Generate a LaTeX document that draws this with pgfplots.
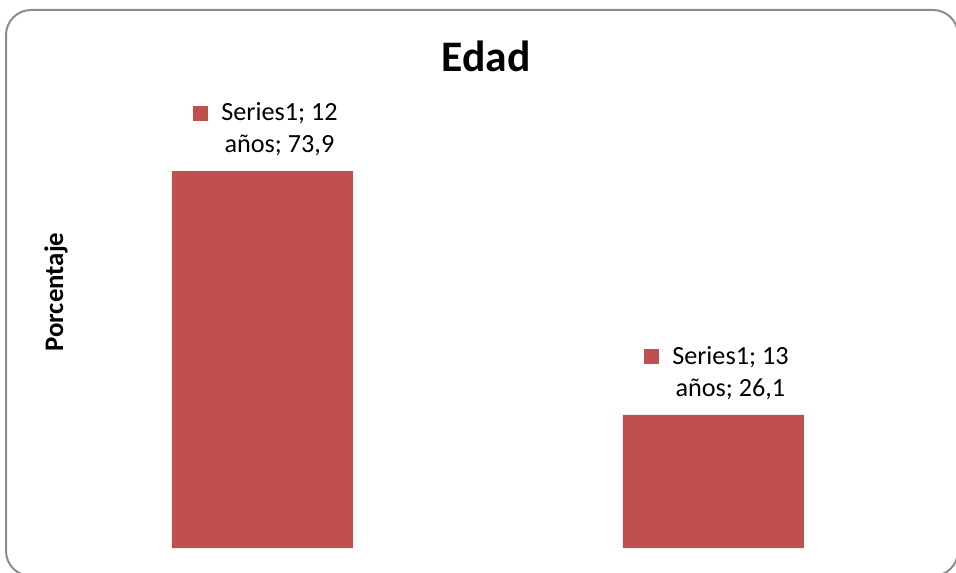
\documentclass[border=0pt]{standalone}
\usepackage{pgfplots}
\pgfplotsset{compat=1.18}
\usepackage{pgfplotstable}
\usepackage{fontspec}
\setmainfont{Carlito}
\definecolor{barred}{HTML}{C0504D}
\definecolor{framegray}{HTML}{8C8C8C}
\newcommand\lbl[2]{\begin{tabular}{@{}c@{\hspace{6.5pt}}c@{}}\textcolor{barred}{\rule{7.5pt}{7.5pt}} & Series1; #1\\ & años; #2\end{tabular}}
\pgfplotstableread{
x y cat
0 73.9 12
1 26.1 13
}\edaddata
\begin{document}
\begin{tikzpicture}
\useasboundingbox (0pt,0pt) rectangle (478pt,-286pt);
\draw[framegray, line width=1pt, rounded corners=12.5pt] (3pt,-5pt) rectangle (479pt,-288pt);
\node[font=\fontsize{21.8pt}{26pt}\selectfont\bfseries, anchor=base] at (243pt,-36pt) {Edad};
\node[font=\fontsize{13.4pt}{16pt}\selectfont\bfseries, rotate=90, anchor=base] at (31.5pt,-146pt) {Porcentaje};
\begin{axis}[
  at={(0pt,-274pt)}, anchor=south west,
  scale only axis, width=478pt, height=255pt,
  xmin=-0.582, xmax=1.538, ymin=0, ymax=100,
  hide axis, clip=false,
  ybar, bar width=90.5pt,
  xtick={0,1}, xticklabels={12 años,13 años},
  point meta=explicit symbolic,
  /pgf/number format/assume math mode=true,
  visualization depends on={rawy\as\rawy},
  nodes near coords={\lbl{\pgfplotspointmeta}{\pgfmathprintnumber[fixed,fixed zerofill,precision=1,use comma,assume math mode=true]{\rawy}}},
  every node near coord/.append style={anchor=south, xshift=1.5pt, inner sep=0pt, yshift=4.3pt, text=black, font=\fontsize{13.1pt}{16pt}\selectfont},
]
\addplot[fill=barred, draw=none] table[x=x,y=y,meta=cat] {\edaddata};
\end{axis}
\end{tikzpicture}
\end{document}
